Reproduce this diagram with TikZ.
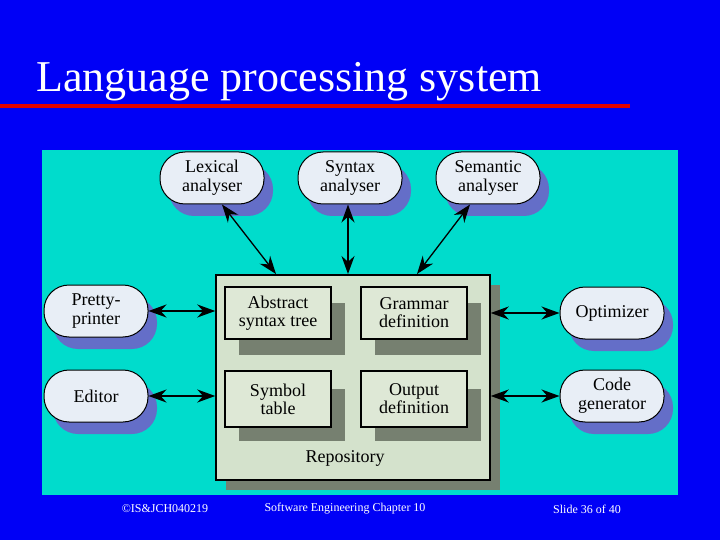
\documentclass[tikz,border=0pt]{standalone}
\usepackage{fontspec}
\setmainfont{Liberation Serif}
\usetikzlibrary{arrows.meta}
\definecolor{bg}{RGB}{0,0,246}
\definecolor{panel}{RGB}{0,220,204}
\definecolor{ovfill}{RGB}{232,238,246}
\definecolor{ovshadow}{RGB}{100,110,200}
\definecolor{repo}{RGB}{212,226,204}
\definecolor{reposh}{RGB}{118,128,112}
\definecolor{boxfill}{RGB}{222,232,214}
\tikzset{
 oval/.style={draw=black,line width=1pt,fill=ovfill,rounded corners=25pt,minimum width=104pt,minimum height=52pt,align=center,font=\fontsize{18}{19}\selectfont,inner sep=1pt},
 ovsh/.style={fill=ovshadow,rounded corners=25pt,minimum width=104pt,minimum height=52pt,draw=none},
 ibox/.style={draw=black,line width=1.2pt,fill=boxfill,minimum width=106pt,minimum height=52pt,align=center,font=\fontsize{18}{18}\selectfont,inner sep=1pt},
 ibsh/.style={fill=reposh,minimum width=106pt,minimum height=52pt,draw=none},
 con/.style={line width=1.3pt,{Stealth[length=18pt,width=13pt]}-{Stealth[length=18pt,width=13pt]}},
 foot/.style={text=white,font=\fontsize{12}{13}\selectfont}
}
\begin{document}
\begin{tikzpicture}[x=1pt,y=-1pt]
\fill[bg] (0,0) rectangle (720,540);
\useasboundingbox (0,0) rectangle (720,540);
\node[anchor=west,text=white,font=\fontsize{44}{46}\selectfont,inner sep=0] (title) at (36,82) {Language processing system};
\fill[red!90!black] (0,104) rectangle (630,108);
\fill[panel] (42,150) rectangle (678,495);
% repository
\fill[reposh] (226,285) rectangle (500,490);
\node[draw=black,line width=1.5pt,fill=repo,minimum width=274pt,minimum height=205pt,inner sep=0] (repo) at (353,377.5) {};
\node (repolab) at (345,458) {\fontsize{18}{18}\selectfont Repository};
% inner boxes
\foreach \x/\y in {278/313,414/313,278/399,414/399}{\node[ibsh] at (\x+14,\y+16) {};}
\node[ibox] (ast) at (278,313) {Abstract\\syntax tree};
\node[ibox] (gram) at (414,313) {Grammar\\definition};
\node[ibox,minimum height=56pt] (sym) at (278,399) {Symbol\\table};
\node[ibox,minimum height=56pt] (out) at (414,399) {Output\\definition};
% ovals
\foreach \x/\y in {212/178,350/178,488/178,96/311,96/396,612/313,612/396}{\node[ovsh] at (\x+9,\y+12) {};}
\node[oval] (lex) at (212,178) {Lexical\\analyser};
\node[oval] (syn) at (350,178) {Syntax\\analyser};
\node[oval] (sem) at (488,178) {Semantic\\analyser};
\node[oval] (pp) at (96,311) {Pretty-\\printer};
\node[oval] (ed) at (96,396) {Editor};
\node[oval] (opt) at (612,313) {Optimizer};
\node[oval] (cg) at (612,396) {Code\\generator};
% connectors
\coordinate (r1) at (276,274);
\coordinate (r2) at (348,274);
\coordinate (r3) at (417,274);
\draw[con] (lex.south) ++(10,0) coordinate (l1) (l1) -- (r1);
\draw[con] (syn.south) ++(-2,0) coordinate (s1) (s1) -- (r2);
\draw[con] (sem.south) ++(-18,0) coordinate (e1) (e1) -- (r3);
\draw[con] (pp.east) -- (pp.east -| repo.west);
\draw[con] (ed.east) -- (ed.east -| repo.west);
\draw[con] (opt.west) -- (opt.west -| repo.east);
\draw[con] (cg.west) -- (cg.west -| repo.east);
% footer
\node[foot] (f1) at (165,509) {©IS\&JCH040219};
\node[foot] (f2) at (345,509) {Software Engineering Chapter 10};
\node[foot] (f3) at (587,509) {Slide 36 of 40};
\end{tikzpicture}
\end{document}
